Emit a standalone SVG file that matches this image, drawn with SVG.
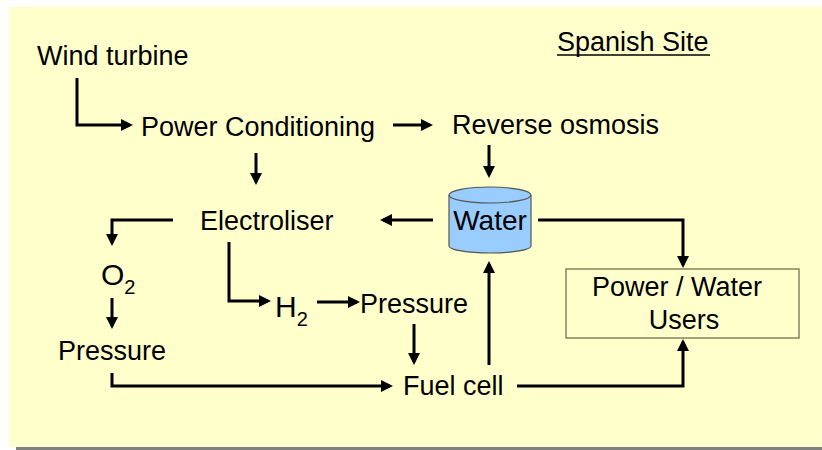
<svg xmlns="http://www.w3.org/2000/svg" width="822" height="450" viewBox="0 0 822 450">
<style>
.t{font-family:"Liberation Sans",Arial,sans-serif;font-size:27px;fill:#000}
.b{font-size:30px}
.s{font-size:20px}
.c{fill:none;stroke:#000;stroke-width:3;marker-end:url(#ah)}
</style>
<defs>
<marker id="ah" markerUnits="userSpaceOnUse" markerWidth="12" markerHeight="12" refX="9" refY="6" orient="auto">
<path d="M0,0 L12,6 L0,12 z" fill="#000"/>
</marker>
</defs>
<rect x="0" y="0" width="822" height="450" fill="#fff"/>
<rect x="9" y="7" width="813" height="440" fill="#FFFFCC"/>
<rect x="16" y="447" width="806" height="3" fill="#808080"/>

<g id="title"><text class="t" x="557" y="51">Spanish Site</text><line x1="557" y1="55" x2="710" y2="55" stroke="#000" stroke-width="1.5"/></g>
<g id="wind"><text class="t" x="37" y="65">Wind turbine</text></g>
<g id="powercond"><text class="t" x="141" y="136">Power Conditioning</text></g>
<g id="ro"><text class="t" x="452" y="134">Reverse osmosis</text></g>
<g id="electroliser"><text class="t" x="200" y="230">Electroliser</text></g>
<g id="water">
<path d="M449,195 L449,246 A41,7 0 0 0 531,246 L531,195" fill="#99CCFF" stroke="#555" stroke-width="1.2"/>
<ellipse cx="490" cy="195" rx="41" ry="8" fill="#99CCFF" stroke="#555" stroke-width="1.2"/>
<text class="t" x="490" y="230" text-anchor="middle" style="font-size:28px">Water</text>
</g>
<g id="o2"><text class="t b" x="101" y="285">O<tspan class="s" dy="9">2</tspan></text></g>
<g id="pressure1"><text class="t" x="58" y="360">Pressure</text></g>
<g id="h2"><text class="t b" x="275" y="317">H<tspan class="s" dy="9">2</tspan></text></g>
<g id="pressure2"><text class="t" x="360" y="313">Pressure</text></g>
<g id="fuelcell"><text class="t" x="403" y="395">Fuel cell</text></g>
<g id="users">
<rect x="566" y="269" width="233" height="69" fill="none" stroke="#666644" stroke-width="1.2"/>
<text class="t" x="677" y="296" text-anchor="middle">Power / Water</text>
<text class="t" x="684" y="329" text-anchor="middle">Users</text>
</g>

<g id="connectors">
<path class="c" d="M77,78 V125 H130"/>
<path class="c" d="M393,125 H430"/>
<path class="c" d="M256,153 V182"/>
<path class="c" d="M489,145 V175"/>
<path class="c" d="M433,220 H383"/>
<path class="c" d="M173,220 H112 V243"/>
<path class="c" d="M112,298 V326"/>
<path class="c" d="M229,242 V301 H268"/>
<path class="c" d="M317,302 H357"/>
<path class="c" d="M414,324 V362"/>
<path class="c" d="M112,373 V386 H390"/>
<path class="c" d="M489,365 V264"/>
<path class="c" d="M538,220 H683 V265"/>
<path class="c" d="M517,386 H683 V342"/>
</g>
</svg>
